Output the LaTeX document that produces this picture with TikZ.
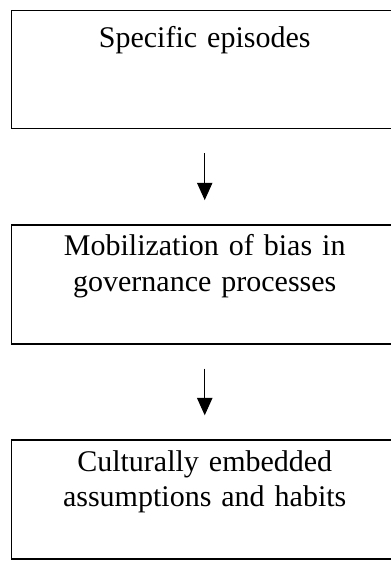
\documentclass[tikz,border=0pt]{standalone}
\usepackage{fontspec}
\setmainfont{Liberation Serif}
\usetikzlibrary{arrows.meta,positioning,calc}

\begin{document}
\begin{tikzpicture}[node distance=71pt,
    stage/.style={draw, line width=1.1pt, inner sep=0pt, text width=289.5pt, align=center,
        font=\fontsize{22.5}{26.5}\selectfont, text height=23.25pt, text depth=66pt},
    flow/.style={-{Triangle[width=11.5pt,length=13pt]}, line width=0.8pt, shorten <=18pt, shorten >=18pt}]
    \node[stage, text height=27.75pt, text depth=60.75pt] (episodes) {Specific episodes};
    \node[stage, below=of episodes] (bias) {Mobilization of bias in\\ governance processes};
    \node[stage, below=of bias] (habits) {Culturally embedded\\ assumptions and habits};

    \draw[flow] (episodes) -- (bias);
    \draw[flow] (bias) -- (habits);

    % page size as in the reference, boxes run past the right edge
    \pgfresetboundingbox
    \useasboundingbox ($(episodes.north west)+(-8.25pt,7.5pt)$) rectangle ++(292.5pt,-420.75pt);
\end{tikzpicture}
\end{document}
